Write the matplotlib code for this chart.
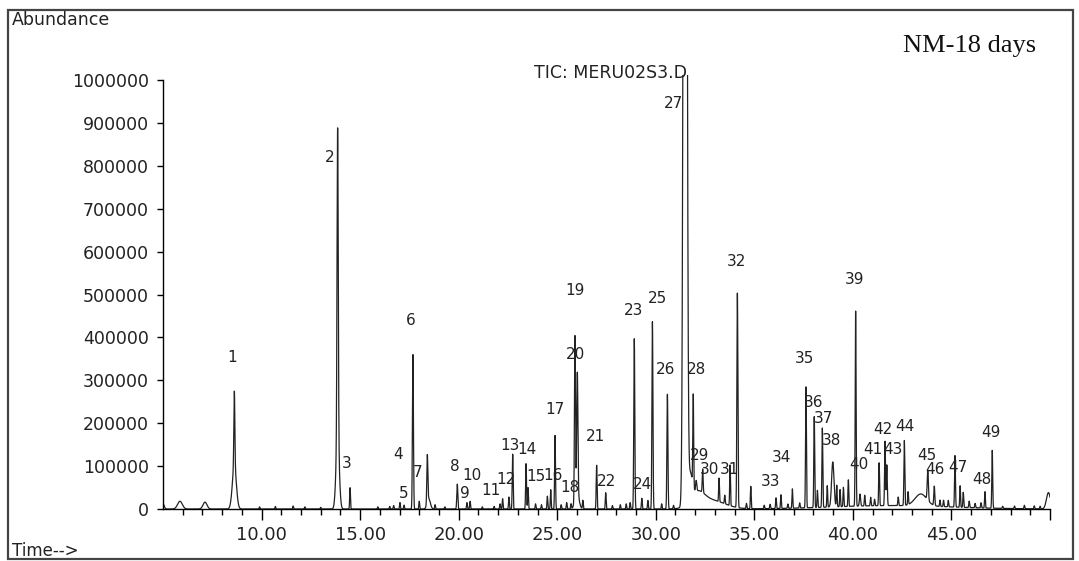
import numpy as np
import matplotlib
matplotlib.use("Agg")
import matplotlib.pyplot as plt
from matplotlib.patches import Rectangle

# ── Peaks (retention time [min], height, width sigma [min]) ──
PEAK_RT = [5.0, 5.86, 7.13, 8.62, 8.62, 13.86, 13.86, 14.49, 17.02, 17.23, 17.68,
           18.0, 18.41, 18.48, 19.93, 20.42, 20.58, 22.23, 22.55, 22.74, 23.42,
           23.52, 24.67, 24.89, 25.48, 25.90, 26.02, 26.0, 27.0, 27.46, 28.91,
           29.29, 29.83, 30.59, 31.49, 31.75, 32.1, 32.8, 31.9, 32.05, 32.38,
           33.21, 33.77, 34.14, 34.82, 36.1, 36.35, 36.93, 37.62, 38.04, 38.45,
           38.98, 39.18, 39.52, 39.77, 40.14, 40.36, 41.33, 41.63, 41.72, 42.61,
           43.45, 43.8, 44.13, 44.42, 44.84, 45.18, 45.44, 45.6, 46.7, 47.07,
           49.92, 42.0]
PEAK_H = [12000, 18000, 16000, 175000, 100000, 720000, 170000, 50000, 15000, 9000, 360000,
          18000, 110000, 25000, 58000, 15000, 18000, 24000, 28000, 128000, 106000,
          50000, 45000, 172000, 15000, 380000, 280000, 40000, 102000, 38000, 398000,
          25000, 437000, 268000, 4300000, 60000, 30000, 20000, 215000, 25000, 55000,
          55000, 95000, 500000, 52000, 25000, 32000, 45000, 282000, 212000, 185000,
          105000, 50000, 45000, 62000, 455000, 28000, 100000, 150000, 95000, 152000,
          28000, 70000, 45000, 15000, 15000, 120000, 50000, 35000, 38000, 135000,
          38000, 8000]
PEAK_W = [0.06, 0.12, 0.1, 0.025, 0.1, 0.03, 0.08, 0.02, 0.02, 0.02, 0.025,
          0.02, 0.025, 0.08, 0.025, 0.02, 0.02, 0.02, 0.02, 0.022, 0.022,
          0.02, 0.02, 0.022, 0.02, 0.025, 0.03, 0.1, 0.022, 0.02, 0.025,
          0.02, 0.025, 0.025, 0.07, 0.1, 0.35, 0.7, 0.022, 0.03, 0.022,
          0.02, 0.02, 0.025, 0.02, 0.02, 0.02, 0.02, 0.022, 0.022, 0.022,
          0.06, 0.02, 0.02, 0.02, 0.022, 0.03, 0.022, 0.022, 0.025, 0.022,
          0.3, 0.03, 0.025, 0.02, 0.02, 0.022, 0.02, 0.02, 0.02, 0.022,
          0.1, 3.0]

# small baseline bumps
NOISE_RT = [9.9, 10.7, 11.6, 12.2, 13.0, 15.9, 16.5, 16.7, 18.8, 19.3, 21.2, 21.8,
            22.1, 23.9, 24.2, 24.5, 25.2, 25.7, 26.3, 27.8, 28.2, 28.5, 28.7, 29.6,
            30.3, 30.9, 33.5, 34.6, 35.5, 35.8, 36.7, 37.3, 38.2, 38.7, 39.35, 40.6,
            40.9, 41.1, 42.3, 42.8, 44.6, 45.9, 46.2, 46.5, 47.6, 48.2, 48.7, 49.2, 49.5]
NOISE_H = [5000, 6000, 7000, 5000, 4000, 5000, 6000, 8000, 10000, 5000, 5000, 6000,
           12000, 12000, 10000, 30000, 10000, 12000, 20000, 8000, 10000, 12000, 15000, 20000,
           12000, 8000, 20000, 12000, 8000, 10000, 10000, 12000, 40000, 50000, 40000, 25000,
           20000, 15000, 20000, 30000, 15000, 15000, 10000, 12000, 5000, 6000, 8000, 7000, 6000]

# ── Peak numbers and where their labels sit ──
LABEL_NO = [str(i) for i in range(1, 50)]
LABEL_T = [8.50, 13.47, 14.34, 16.92, 17.23, 17.58, 17.94, 19.81, 20.32, 20.68,
           21.62, 22.42, 22.60, 23.47, 23.90, 24.78, 24.89, 25.66, 25.90, 25.95,
           26.92, 27.48, 28.85, 29.35, 30.11, 30.52, 30.88, 32.09, 32.24, 32.72,
           33.72, 34.12, 35.80, 36.40, 37.57, 37.98, 38.49, 38.90, 40.11, 40.31,
           41.02, 41.53, 42.04, 42.65, 43.76, 44.17, 45.33, 46.55, 47.00]
LABEL_Y = [354000, 820000, 105000, 126000, 37000, 440000, 84000, 100000, 37000, 77000,
           44000, 68000, 147000, 138000, 75000, 78000, 233000, 50000, 510000, 361000,
           168000, 63000, 464000, 56000, 492000, 326000, 946000, 326000, 124000, 91000,
           91000, 576000, 63000, 119000, 352000, 249000, 212000, 159000, 536000, 103000,
           138000, 186000, 138000, 193000, 124000, 91000, 96000, 68000, 179000]

Y_TICKS = [0, 100000, 200000, 300000, 400000, 500000, 600000, 700000, 800000, 900000, 1000000]
X_TICKS = [10, 15, 20, 25, 30, 35, 40, 45, 50]
X_TICKLABELS = ["10.00", "15.00", "20.00", "25.00", "30.00", "35.00", "40.00", "45.00", ""]

# build the trace
t = np.linspace(5, 50, 12000)
signal = np.zeros_like(t)
for rt, h, w in zip(PEAK_RT, PEAK_H, PEAK_W):
    signal += h * np.exp(-0.5 * ((t - rt) / w) ** 2)
for rt, h in zip(NOISE_RT, NOISE_H):
    signal += h * np.exp(-0.5 * ((t - rt) / 0.02) ** 2)

W, H = 1079, 561
fig = plt.figure(figsize=(W / 100, H / 100), dpi=100, facecolor="white")
ax = fig.add_axes([163 / W, 1 - 509 / H, 887 / W, 434 / H])

ax.plot(t, signal, color="#222222", linewidth=0.9)
ax.set_xlim(5, 50)
ax.set_ylim(0, 1012000)

for s in ("top", "right"):
    ax.spines[s].set_visible(False)
ax.spines["left"].set_bounds(0, 1000000)
ax.spines["left"].set_linewidth(1.0)
ax.spines["bottom"].set_linewidth(1.0)

ax.set_yticks(Y_TICKS)
ax.set_yticklabels([str(v) for v in Y_TICKS], fontsize=12.5, color="#222222")
ax.set_xticks(X_TICKS)
ax.set_xticklabels(X_TICKLABELS, fontsize=13, color="#222222")
ax.set_xticks(range(6, 50), minor=True)
ax.tick_params(axis="y", length=4, width=1, pad=6)
ax.tick_params(axis="x", which="major", length=8, width=1, pad=4)
ax.tick_params(axis="x", which="minor", length=4, width=1)

for lab, lt, ly in zip(LABEL_NO, LABEL_T, LABEL_Y):
    ax.text(lt, ly, lab, fontsize=11, ha="center", va="center", color="#222222")

fig.text(610 / W, 1 - 73 / H, "TIC: MERU02S3.D", fontsize=12.5, ha="center", va="center",
         color="#222222")
fig.text(970 / W, 1 - 46 / H, "NM-18 days", fontsize=19, ha="center", va="center",
         family="Liberation Serif", color="#111111")
fig.text(12 / W, 1 - 20 / H, "Abundance", fontsize=12.5, ha="left", va="center",
         color="#222222")
fig.text(12 / W, 1 - 551 / H, "Time-->", fontsize=12, ha="left", va="center",
         color="#222222")

fig.patches.append(Rectangle((8 / W, 1 - 559 / H), 1065 / W, 549 / H,
                             transform=fig.transFigure, fill=False,
                             edgecolor="#444444", linewidth=1.6))

fig.savefig("out.png", dpi=100, facecolor="white")
